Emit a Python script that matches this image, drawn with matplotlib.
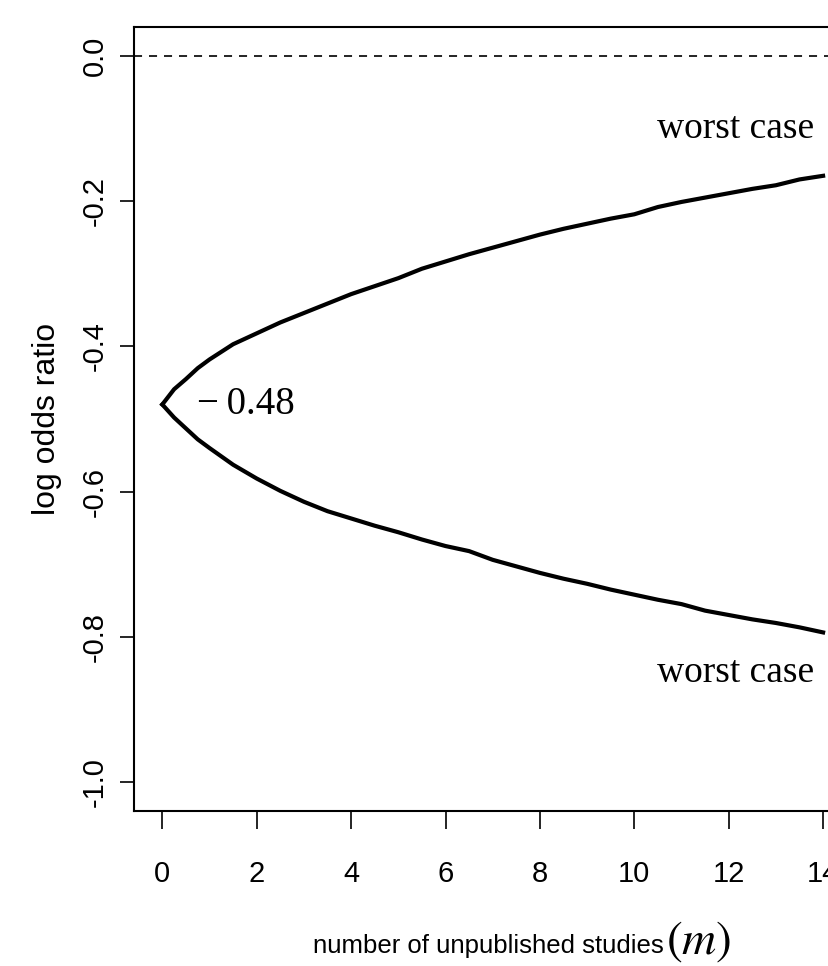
import matplotlib
matplotlib.use("Agg")
import matplotlib.pyplot as plt

# sensitivity bounds (finer near m = 0 where the curves bend)
m_grid = [0, 0.25, 0.5, 0.75, 1, 1.5, 2, 2.5, 3, 3.5, 4, 4.5, 5, 5.5, 6, 6.5, 7,
          7.5, 8, 8.5, 9, 9.5, 10, 10.5, 11, 11.5, 12, 12.5, 13, 13.5, 14]
upper_bound = [-0.480, -0.459, -0.445, -0.430, -0.418, -0.397, -0.382, -0.367,
               -0.354, -0.341, -0.328, -0.317, -0.306, -0.293, -0.283, -0.273,
               -0.264, -0.255, -0.246, -0.238, -0.231, -0.224, -0.218, -0.208,
               -0.201, -0.195, -0.189, -0.183, -0.178, -0.170, -0.165]
lower_bound = [-0.480, -0.498, -0.513, -0.528, -0.540, -0.563, -0.582, -0.599,
               -0.614, -0.627, -0.637, -0.647, -0.656, -0.666, -0.675, -0.682,
               -0.694, -0.703, -0.712, -0.720, -0.727, -0.735, -0.742, -0.749,
               -0.755, -0.764, -0.770, -0.776, -0.781, -0.787, -0.794]
estimate = -0.48
x_ticks = [0, 2, 4, 6, 8, 10, 12, 14]
y_ticks = [0.0, -0.2, -0.4, -0.6, -0.8, -1.0]
y_tick_labels = ["0.0", "-0.2", "-0.4", "-0.6", "-0.8", "-1.0"]

plt.rcParams["font.family"] = ["Liberation Sans", "DejaVu Sans"]
plt.rcParams["mathtext.fontset"] = "stix"
plt.rcParams["lines.scale_dashes"] = False

W, H = 829, 966
fig = plt.figure(figsize=(W / 100, H / 100), dpi=100)
# the original plot region runs past the right edge of the image
ax = fig.add_axes([134 / W, 1 - 811 / H, 764.6 / W, 784 / H])

ax.plot(m_grid, upper_bound, color="black", lw=3.0, solid_joinstyle="round")
ax.plot(m_grid, lower_bound, color="black", lw=3.0, solid_joinstyle="round")
ax.axhline(0.0, color="black", lw=1.2, dashes=(5.8, 5.0))

ax.set_xlim(-0.6, 15.6)
ax.set_ylim(-1.04, 0.04)

ax.set_xticks(x_ticks)
ax.set_xticklabels([str(t) for t in x_ticks])
ax.set_yticks(y_ticks)
ax.set_yticklabels(y_tick_labels, rotation=90, va="center")
ax.tick_params(axis="x", length=13, width=1.2, labelsize=21, pad=22)
ax.tick_params(axis="y", length=10, width=1.2, labelsize=21, pad=8)
for s in ax.spines.values():
    s.set_linewidth(1.5)

ax.set_ylabel("log odds ratio", fontsize=23, labelpad=14)

serif = ["Liberation Serif", "DejaVu Serif"]
ax.text(0.73, estimate, "\u2212\u20090.48", family=serif, fontsize=28,
        ha="left", va="center")
ax.text(12.15, -0.1, "worst case", family=serif, fontsize=27,
        ha="center", va="center")
ax.text(12.15, -0.85, "worst case", family=serif, fontsize=27,
        ha="center", va="center")

fig.text(664 / W, 1 - 953 / H, "number of unpublished studies",
         fontsize=18.5, ha="right", va="baseline")
fig.text(666 / W, 1 - 954 / H, r"$(m)$", fontsize=34,
         ha="left", va="baseline")

fig.savefig("out.png", dpi=100)
